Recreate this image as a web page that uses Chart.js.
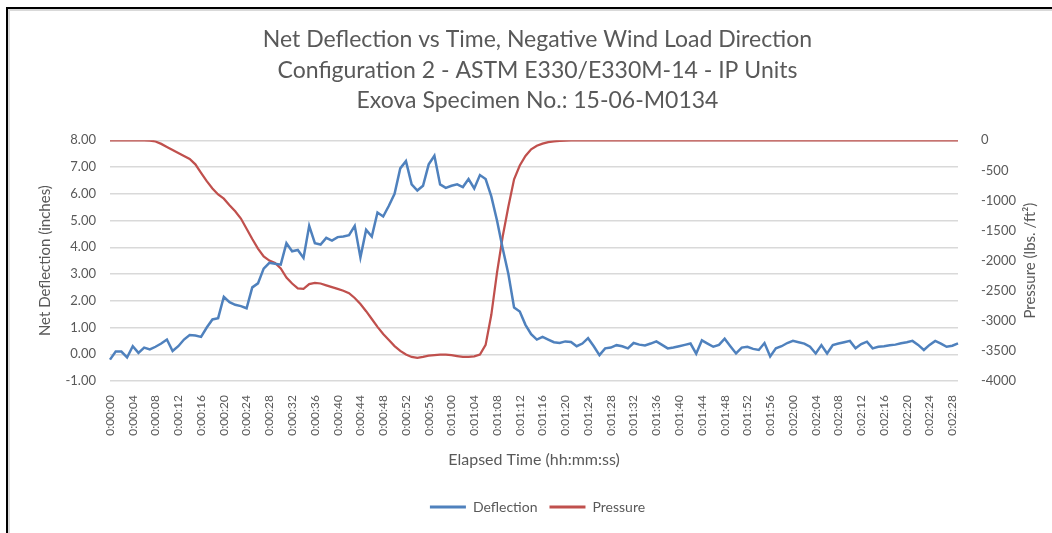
<!DOCTYPE html>
<html>
<head>
<meta charset="utf-8">
<script src="https://cdn.jsdelivr.net/npm/chart.js@4.4.1/dist/chart.umd.min.js"></script>
<style>
  html, body { margin: 0; padding: 0; background: #fff; }
  #wrap { position: relative; width: 1052px; height: 533px; overflow: hidden; }
  #frameTop { position: absolute; left: 6px; top: 7px; right: 0; height: 2px; background: #000; }
  #frameLeft { position: absolute; left: 6px; top: 7px; bottom: 0; width: 2px; background: #000; }
  #innerTop { position: absolute; left: 8px; top: 9px; right: 0; height: 2px; background: #d9d9d9; }
  #innerLeft { position: absolute; left: 8px; top: 9px; bottom: 0; width: 2px; background: #d9d9d9; }
  canvas { position: absolute; left: 0; top: 0; }
</style>
</head>
<body>
<div id="wrap">
  <canvas id="chart" width="1052" height="533"></canvas>
  <div id="frameTop"></div><div id="frameLeft"></div>
  <div id="innerTop"></div><div id="innerLeft"></div>
</div>
<script>
// elapsed seconds 0..149, one reading per second
const elapsedSeconds = 150;

// net deflection (inches), one value per second
const deflection = [
  -0.20, 0.10, 0.10, -0.12, 0.30, 0.05, 0.25, 0.18, 0.28, 0.40,
  0.55, 0.12, 0.30, 0.55, 0.72, 0.70, 0.65, 1.00, 1.30, 1.35,
  2.15, 1.95, 1.85, 1.80, 1.72, 2.50, 2.65, 3.20, 3.42, 3.38,
  3.35, 4.15, 3.85, 3.90, 3.60, 4.80, 4.15, 4.10, 4.35, 4.25,
  4.38, 4.40, 4.45, 4.80, 3.62, 4.65, 4.40, 5.30, 5.15, 5.55,
  6.00, 6.95, 7.22, 6.35, 6.12, 6.30, 7.10, 7.42, 6.35, 6.22,
  6.30, 6.35, 6.25, 6.55, 6.20, 6.70, 6.55, 5.90, 5.00, 3.95,
  3.00, 1.75, 1.60, 1.10, 0.75, 0.55, 0.65, 0.55, 0.45, 0.42,
  0.48, 0.46, 0.30, 0.40, 0.60, 0.30, -0.03, 0.22, 0.25, 0.34,
  0.30, 0.22, 0.42, 0.36, 0.33, 0.40, 0.48, 0.35, 0.22, 0.25,
  0.30, 0.35, 0.40, 0.02, 0.52, 0.40, 0.28, 0.35, 0.58, 0.30,
  0.03, 0.25, 0.28, 0.20, 0.16, 0.42, -0.08, 0.22, 0.30, 0.42,
  0.50, 0.45, 0.40, 0.28, 0.03, 0.34, 0.03, 0.34, 0.40, 0.45,
  0.50, 0.22, 0.38, 0.47, 0.22, 0.28, 0.30, 0.34, 0.36, 0.41,
  0.45, 0.50, 0.35, 0.16, 0.35, 0.50, 0.40, 0.28, 0.32, 0.41
];

// pressure (lbs./ft²), one value per second
const pressure = [
  0, 0, 0, 0, 0, 0, 0, -5, -20, -60,
  -110, -160, -210, -260, -310, -400, -540, -680, -800, -900,
  -970, -1080, -1180, -1300, -1470, -1640, -1800, -1930, -2000, -2040,
  -2130, -2280, -2380, -2460, -2470, -2390, -2370, -2380, -2410, -2440,
  -2470, -2500, -2540, -2620, -2720, -2840, -2970, -3100, -3220, -3320,
  -3420, -3500, -3560, -3600, -3615, -3600, -3580, -3570, -3560, -3560,
  -3570, -3585, -3600, -3600, -3590, -3560, -3400, -2900, -2200, -1600,
  -1100, -650, -420, -260, -150, -90, -55, -30, -18, -10,
  -6, -3, -2, -1, 0, 0, 0, 0, 0, 0,
  0, 0, 0, 0, 0, 0, 0, 0, 0, 0,
  0, 0, 0, 0, 0, 0, 0, 0, 0, 0,
  0, 0, 0, 0, 0, 0, 0, 0, 0, 0,
  0, 0, 0, 0, 0, 0, 0, 0, 0, 0,
  0, 0, 0, 0, 0, 0, 0, 0, 0, 0,
  0, 0, 0, 0, 0, 0, 0, 0, 0, 0
];

const titleLines = [
  "Net Deflection vs Time, Negative Wind Load Direction",
  "Configuration 2 - ASTM E330/E330M-14 - IP Units",
  "Exova Specimen No.: 15-06-M0134"
];

function hms(s) {
  const m = Math.floor(s / 60), sec = s % 60;
  return "0:" + String(m).padStart(2, "0") + ":" + String(sec).padStart(2, "0");
}
const timeLabels = [];
for (let s = 0; s < elapsedSeconds; s++) timeLabels.push(hms(s));

const textColor = "#595959";
const fontFamily = "Lato, 'Open Sans', sans-serif";

// right axis title reads bottom-to-top like the left one
const rightTitle = {
  id: "rightTitle",
  afterDraw(chart) {
    const { ctx, chartArea } = chart;
    ctx.save();
    ctx.translate(1030, (chartArea.top + chartArea.bottom) / 2);
    ctx.rotate(-Math.PI / 2);
    ctx.font = "15px " + fontFamily;
    ctx.fillStyle = textColor;
    ctx.textAlign = "center";
    ctx.textBaseline = "middle";
    ctx.fillText("Pressure (lbs. /ft²)", 0, 0);
    ctx.restore();
  }
};

new Chart(document.getElementById("chart"), {
  type: "line",
  data: {
    labels: timeLabels,
    datasets: [
      {
        label: "Deflection",
        data: deflection,
        yAxisID: "y",
        borderColor: "#4F81BD",
        backgroundColor: "#4F81BD",
        borderWidth: 2.5,
        pointRadius: 0,
        tension: 0,
      },
      {
        label: "Pressure",
        data: pressure,
        yAxisID: "y2",
        borderColor: "#C0504D",
        backgroundColor: "#C0504D",
        borderWidth: 2.25,
        pointRadius: 0,
        tension: 0,
        clip: 0,
      },
    ],
  },
  options: {
    responsive: false,
    animation: false,
    events: [],
    layout: { padding: { left: 33, right: 10, top: 10, bottom: 9 } },
    plugins: {
      title: {
        display: true,
        text: titleLines,
        color: textColor,
        font: { family: fontFamily, size: 23, weight: "normal", lineHeight: 1.33 },
        padding: { top: 14.5, bottom: 24 },
      },
      legend: {
        position: "bottom",
        labels: {
          color: textColor,
          font: { family: fontFamily, size: 14 },
          boxWidth: 36,
          boxHeight: 3,
          padding: 12,
          generateLabels: (chart) =>
            Chart.defaults.plugins.legend.labels.generateLabels(chart).map((l) => ({
              ...l, lineWidth: 0, fillStyle: l.strokeStyle,
            })),
        },
      },
      tooltip: { enabled: false },
    },
    scales: {
      x: {
        offset: false,
        grid: { display: false },
        border: { display: false },
        ticks: {
          autoSkip: false,
          maxRotation: 90,
          minRotation: 90,
          padding: 6,
          color: textColor,
          font: { family: fontFamily, size: 12 },
          callback: (v, i) => (i % 4 === 0 ? timeLabels[i] : ""),
        },
        title: {
          display: true,
          text: "Elapsed Time (hh:mm:ss)",
          color: textColor,
          font: { family: fontFamily, size: 16 },
          padding: { top: 4, bottom: 19 },
        },
        afterFit: (s) => { s.height = 107; },
      },
      y: {
        position: "left",
        min: -1,
        max: 8,
        grid: { color: "#d9d9d9", lineWidth: 1.5, drawTicks: false },
        border: { display: false },
        ticks: {
          stepSize: 1,
          padding: 14,
          color: textColor,
          font: { family: fontFamily, size: 13 },
          callback: (v) => v.toFixed(2),
        },
        title: {
          display: true,
          text: "Net Deflection (inches)",
          color: textColor,
          font: { family: fontFamily, size: 15 },
          padding: { top: 3, bottom: 4 },
        },
        afterFit: (s) => { s.width = 77; },
      },
      y2: {
        position: "right",
        min: -4000,
        max: 0,
        grid: { display: false },
        border: { display: false },
        ticks: {
          stepSize: 500,
          padding: 15,
          color: textColor,
          font: { family: fontFamily, size: 13 },
          callback: (v) => String(v),
        },
        afterFit: (s) => { s.width = 84; },
      },
    },
  },
  plugins: [rightTitle],
});
</script>
</body>
</html>
